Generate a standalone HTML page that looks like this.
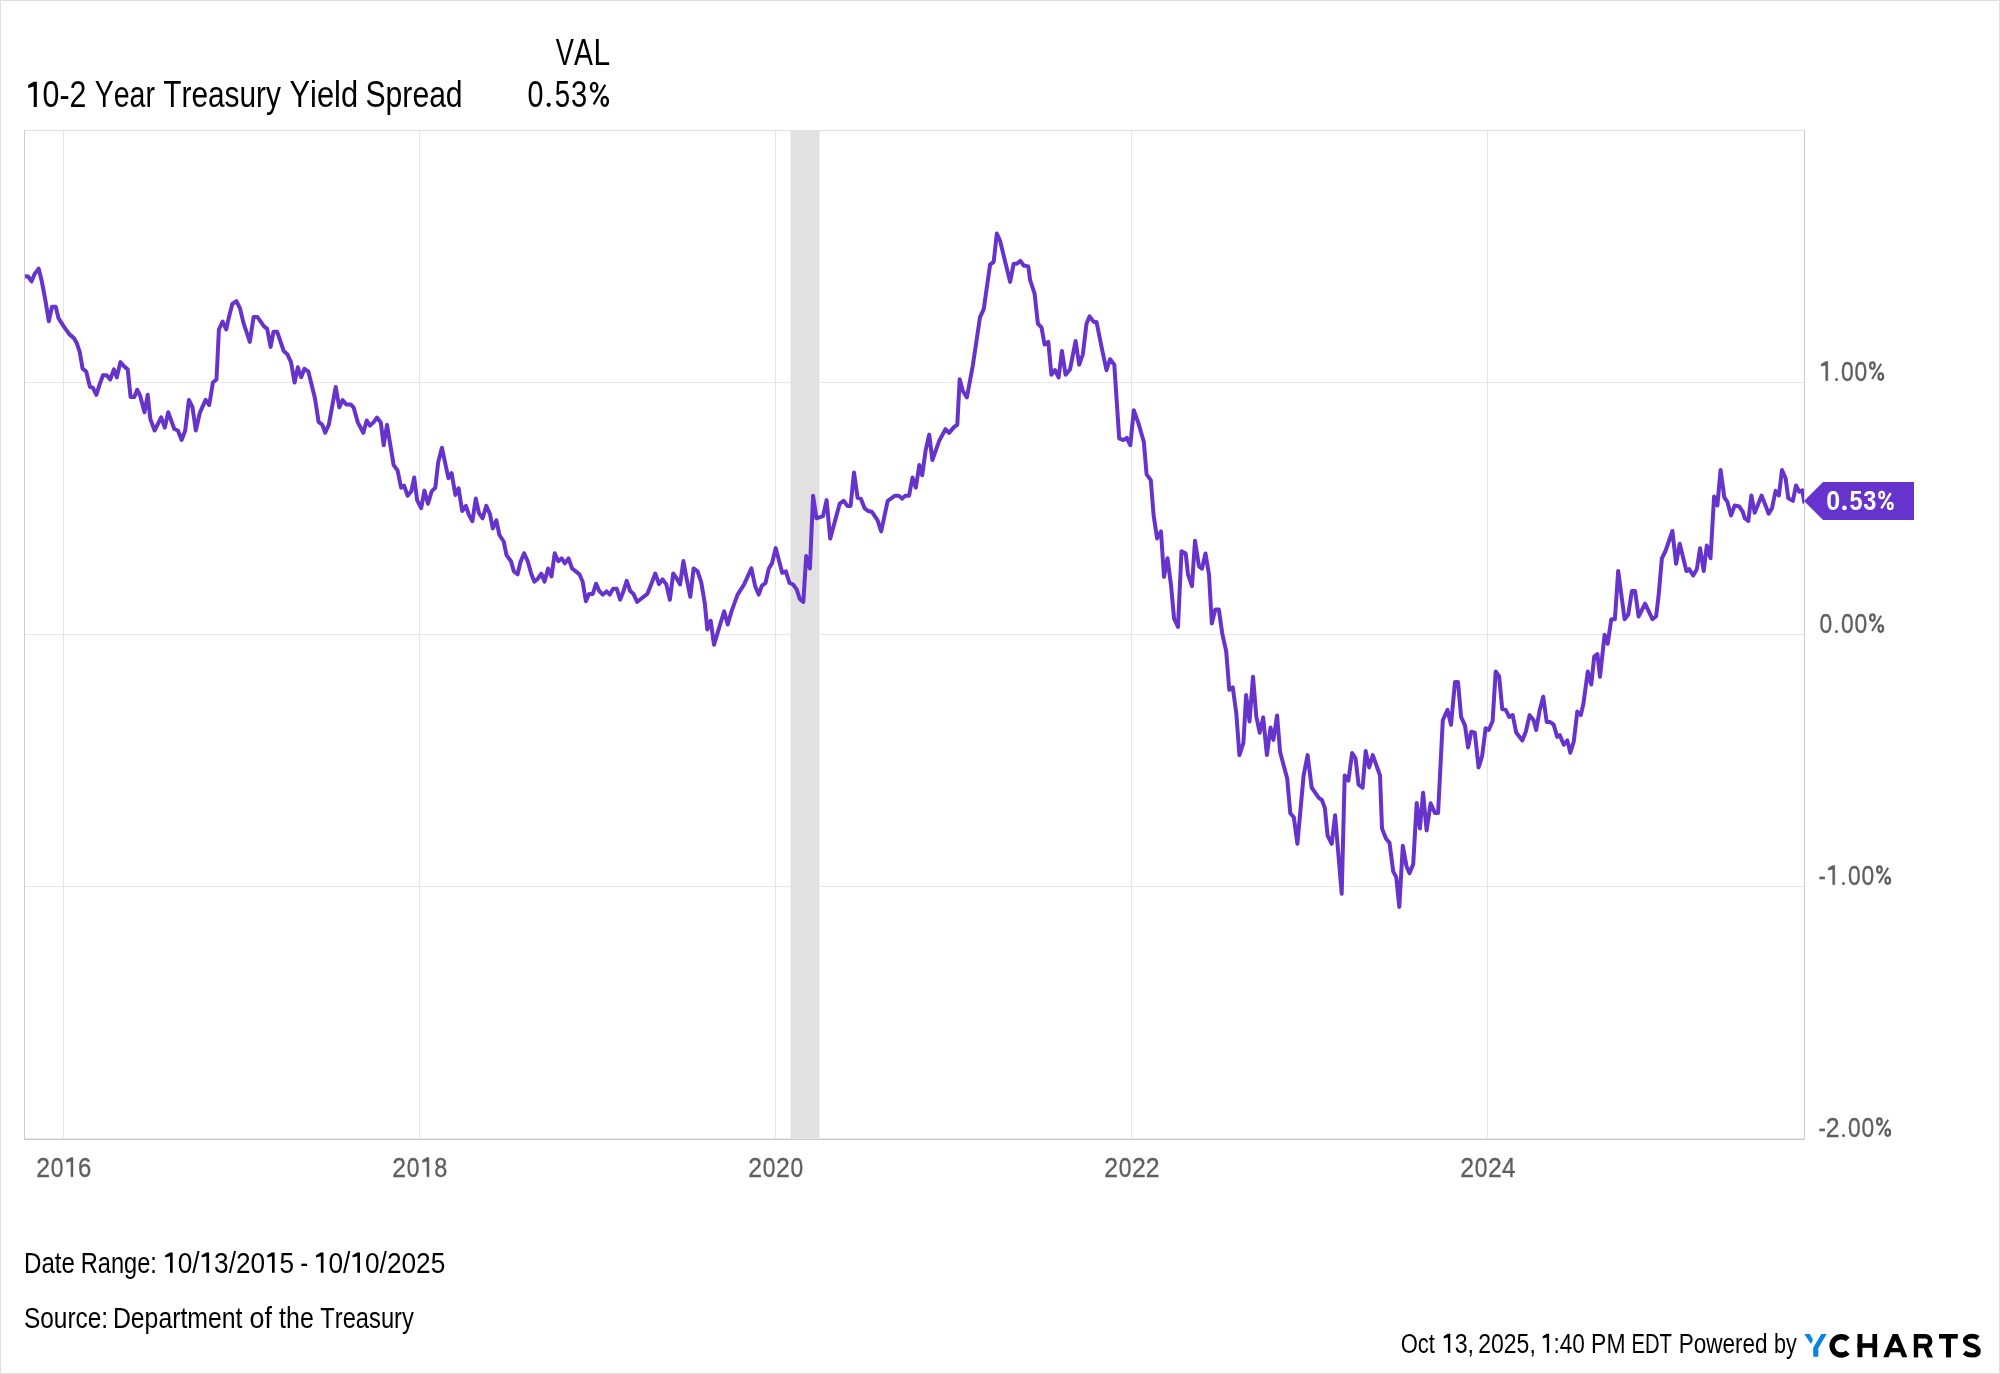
<!DOCTYPE html>
<html><head><meta charset="utf-8">
<style>
html,body{margin:0;padding:0;background:#fff;}
body{width:2000px;height:1374px;overflow:hidden;}
svg{display:block;will-change:transform;}
text{font-family:"Liberation Sans",sans-serif;font-kerning:none;}
</style></head>
<body>
<svg width="2000" height="1374" viewBox="0 0 2000 1374">
<rect x="0.5" y="0.5" width="1999" height="1373" fill="#fff" stroke="#e0e0e0" stroke-width="1"/>
<text x="555.78" y="64.7" font-size="36" fill="#000" textLength="18.14" lengthAdjust="spacingAndGlyphs">V</text>
<text x="574.04" y="64.7" font-size="36" fill="#000" textLength="18.91" lengthAdjust="spacingAndGlyphs">A</text>
<text x="593.44" y="64.7" font-size="36" fill="#000" textLength="16.65" lengthAdjust="spacingAndGlyphs">L</text>
<text x="527.58" y="106.9" font-size="36" fill="#000" textLength="15.94" lengthAdjust="spacingAndGlyphs">0</text>
<circle cx="548.70" cy="104.80" r="2.10" fill="#000"/>
<text x="554.79" y="106.9" font-size="36" fill="#000" textLength="15.37" lengthAdjust="spacingAndGlyphs">5</text>
<text x="570.99" y="106.9" font-size="36" fill="#000" textLength="16.19" lengthAdjust="spacingAndGlyphs">3</text>
<ellipse cx="594.14" cy="87.24" rx="3.14" ry="4.34" fill="none" stroke="#000" stroke-width="2.41"/>
<ellipse cx="604.76" cy="101.36" rx="3.14" ry="4.34" fill="none" stroke="#000" stroke-width="2.41"/>
<line x1="605.24" y1="84.72" x2="593.66" y2="104.38" stroke="#000" stroke-width="2.12"/>
<text x="25.74" y="106.9" font-size="36" fill="#000" textLength="60.76" lengthAdjust="spacingAndGlyphs"> 0-2</text>
<path d="M33.57,81.70 L36.83,81.70 L36.83,106.90 L33.72,106.90 L33.72,86.49 L28.20,88.00 L28.20,85.10 Z" fill="#000"/>
<text x="94.67" y="106.9" font-size="36" fill="#000" textLength="60.30" lengthAdjust="spacingAndGlyphs">Year</text>
<text x="163.23" y="106.9" font-size="36" fill="#000" textLength="117.73" lengthAdjust="spacingAndGlyphs">Treasury</text>
<text x="289.52" y="106.9" font-size="36" fill="#000" textLength="68.56" lengthAdjust="spacingAndGlyphs">Yield</text>
<text x="365.53" y="106.9" font-size="36" fill="#000" textLength="97.11" lengthAdjust="spacingAndGlyphs">Spread</text>
<rect x="790.5" y="131" width="29" height="1007" fill="#e1e1e1"/>
<g stroke="#e6e6e6" stroke-width="1">
<line x1="63.5" y1="131" x2="63.5" y2="1139"/>
<line x1="419.5" y1="131" x2="419.5" y2="1139"/>
<line x1="775.5" y1="131" x2="775.5" y2="1139"/>
<line x1="1131.5" y1="131" x2="1131.5" y2="1139"/>
<line x1="1487.5" y1="131" x2="1487.5" y2="1139"/>
<line x1="25" y1="382.5" x2="1804" y2="382.5"/>
<line x1="25" y1="634.5" x2="1804" y2="634.5"/>
<line x1="25" y1="886.5" x2="1804" y2="886.5"/>
<line x1="25" y1="1138.5" x2="1804" y2="1138.5"/>
</g>
<line x1="24" y1="130.5" x2="1805" y2="130.5" stroke="#e0e0e0" stroke-width="1"/>
<line x1="24.5" y1="130" x2="24.5" y2="1140" stroke="#cccccc" stroke-width="1"/>
<line x1="1804.5" y1="130" x2="1804.5" y2="1140" stroke="#cccccc" stroke-width="1"/>
<line x1="24" y1="1139.5" x2="1805" y2="1139.5" stroke="#cccccc" stroke-width="1"/>
<defs><clipPath id="pc"><rect x="25" y="131" width="1779" height="1008"/></clipPath></defs>
<path clip-path="url(#pc)" d="M25.1,276.2 L28.0,276.5 L31.6,281.3 L34.6,274.0 L38.6,268.6 L41.8,281.3 L45.5,300.9 L48.8,321.3 L52.0,306.8 L55.7,306.8 L58.6,318.4 L63.7,326.4 L69.5,334.4 L73.9,338.1 L76.8,343.2 L79.7,351.9 L82.6,368.6 L86.2,371.5 L89.9,386.8 L92.8,387.6 L96.4,394.8 L99.3,385.4 L103.0,375.2 L106.6,375.2 L110.2,379.5 L113.9,369.4 L116.8,377.4 L120.4,362.1 L124.1,366.4 L127.7,369.4 L130.6,397.0 L134.3,397.0 L137.2,389.7 L140.1,395.6 L144.5,412.3 L147.7,394.8 L150.3,418.9 L154.6,430.5 L161.2,417.4 L164.8,427.6 L168.2,412.3 L174.3,429.0 L177.9,430.5 L181.6,440.0 L185.2,430.5 L188.9,399.9 L192.5,407.2 L195.8,430.5 L199.8,413.0 L205.6,399.9 L209.2,405.0 L212.9,382.5 L216.5,379.5 L218.9,329.5 L222.6,321.5 L226.2,329.5 L229.1,316.4 L232.3,304.0 L236.4,301.1 L240.0,308.4 L243.7,323.7 L249.8,341.9 L253.6,317.1 L257.5,317.1 L264.0,326.3 L267.2,328.8 L270.6,347.0 L273.5,331.7 L277.1,331.7 L283.7,351.0 L287.3,354.2 L291.0,362.2 L294.6,382.6 L297.8,367.3 L301.2,377.2 L304.5,368.8 L308.4,371.7 L315.0,398.6 L318.6,421.9 L322.3,424.8 L325.2,432.8 L328.8,424.8 L335.7,387.0 L339.3,407.4 L342.6,400.1 L346.3,404.5 L350.7,404.5 L353.6,407.4 L357.9,422.6 L363.3,432.8 L366.7,420.5 L370.0,425.6 L373.9,421.9 L376.9,417.6 L380.8,422.6 L383.7,445.2 L387.0,424.8 L393.6,464.9 L396.5,469.2 L397.5,470.2 L401.1,487.7 L404.0,485.5 L407.7,495.7 L411.3,491.3 L414.2,477.5 L417.1,500.1 L421.2,508.1 L424.4,490.6 L428.0,503.7 L431.7,491.3 L435.3,487.7 L438.2,462.2 L441.9,447.7 L448.4,478.2 L451.6,473.1 L455.4,495.0 L458.6,488.4 L462.2,511.0 L465.9,505.9 L468.8,514.6 L472.4,521.2 L475.8,498.6 L479.0,513.2 L482.6,518.3 L486.3,505.9 L489.9,513.9 L492.8,528.4 L496.4,520.4 L499.4,535.0 L503.7,541.5 L506.6,555.4 L511.0,561.2 L513.9,571.4 L517.6,574.3 L520.5,561.9 L524.1,553.2 L527.7,561.2 L531.4,574.3 L534.3,581.6 L537.9,578.7 L541.3,573.6 L544.5,581.6 L548.1,568.5 L551.5,576.5 L554.7,553.2 L558.3,561.2 L561.7,558.3 L564.9,563.4 L568.5,558.3 L572.1,568.5 L575.8,571.4 L579.4,574.3 L582.6,581.5 L585.9,601.2 L589.1,593.9 L592.8,593.9 L596.1,583.7 L599.3,591.0 L602.9,594.6 L606.6,591.4 L609.8,594.6 L613.1,588.8 L616.8,588.8 L620.1,599.7 L623.3,591.7 L626.7,580.8 L630.2,591.0 L633.5,593.9 L637.1,601.9 L640.8,599.0 L647.3,593.9 L651.7,583.0 L655.3,573.5 L659.0,584.1 L662.6,579.3 L666.3,584.4 L669.9,599.7 L673.2,573.5 L676.4,577.9 L680.1,584.4 L683.4,561.1 L686.6,578.6 L690.3,596.8 L693.6,568.4 L697.6,571.3 L701.2,582.2 L704.8,603.3 L707.3,629.5 L710.7,620.8 L714.0,644.8 L720.1,624.5 L724.2,611.4 L727.7,624.5 L731.5,611.4 L737.6,594.6 L744.1,584.4 L751.4,568.4 L755.1,585.9 L758.7,594.6 L761.8,585.9 L765.5,583.0 L768.8,568.5 L772.0,563.4 L775.7,548.1 L782.2,572.8 L785.9,571.4 L789.5,583.0 L793.1,584.5 L796.8,589.6 L799.7,599.0 L803.3,602.0 L806.2,556.1 L809.9,568.5 L813.1,495.7 L816.4,518.3 L823.0,516.1 L826.6,500.1 L830.2,538.6 L839.7,503.7 L843.6,500.8 L847.4,505.9 L850.6,505.9 L854.0,472.4 L857.6,497.9 L860.8,498.6 L864.5,508.1 L868.1,511.0 L871.7,511.7 L877.6,520.4 L881.2,531.4 L887.7,500.8 L895.0,495.7 L898.7,495.7 L902.3,498.6 L905.2,495.7 L909.1,495.7 L912.5,477.5 L915.8,487.7 L919.3,465.1 L922.2,475.3 L925.6,450.6 L929.2,434.6 L932.4,460.0 L939.4,440.4 L945.5,429.2 L949.1,432.9 L953.7,427.4 L957.3,424.7 L959.7,379.2 L962.8,391.0 L966.9,397.4 L972.8,365.6 L980.0,317.3 L983.7,309.2 L990.1,264.6 L993.7,261.8 L996.8,233.6 L1000.1,240.9 L1010.1,281.9 L1013.7,263.7 L1016.8,263.7 L1020.4,260.9 L1023.7,265.5 L1028.3,266.4 L1030.1,280.0 L1034.6,293.7 L1037.9,323.7 L1041.5,327.4 L1044.6,344.6 L1048.3,341.9 L1051.4,374.7 L1055.0,370.1 L1058.6,377.4 L1061.9,351.0 L1065.6,374.7 L1070.1,369.2 L1075.6,341.0 L1079.2,364.7 L1082.8,354.6 L1086.5,323.7 L1089.6,316.4 L1093.8,321.9 L1096.5,321.9 L1102.0,349.2 L1106.5,370.1 L1110.1,359.2 L1114.3,364.7 L1119.2,438.3 L1123.3,440.1 L1126.8,437.8 L1130.3,445.2 L1133.8,410.3 L1138.4,423.1 L1143.8,441.7 L1146.6,474.3 L1150.8,480.1 L1153.6,515.1 L1157.1,538.4 L1161.0,531.4 L1164.0,576.8 L1167.5,558.2 L1171.0,584.9 L1174.1,618.7 L1178.0,626.9 L1181.5,551.2 L1185.7,553.5 L1188.0,574.5 L1192.0,586.1 L1195.0,540.7 L1199.0,566.3 L1202.0,568.6 L1205.5,553.5 L1209.0,574.5 L1211.8,623.4 L1215.3,609.4 L1218.8,609.4 L1222.3,633.9 L1226.2,651.3 L1229.3,689.8 L1232.8,687.4 L1236.3,713.4 L1239.4,755.1 L1243.4,742.9 L1246.1,695.0 L1249.5,721.5 L1253.0,676.7 L1256.3,716.4 L1259.7,732.7 L1263.2,717.4 L1266.9,755.1 L1270.5,727.6 L1273.4,739.9 L1277.1,715.4 L1280.1,752.1 L1287.2,778.6 L1290.3,813.2 L1293.8,817.3 L1297.4,843.8 L1303.6,775.5 L1307.6,755.1 L1311.7,787.7 L1318.8,797.9 L1321.9,800.0 L1324.9,808.1 L1327.6,835.6 L1331.7,843.8 L1335.1,815.3 L1341.7,893.7 L1344.7,775.5 L1348.4,780.6 L1352.1,753.1 L1355.5,758.2 L1358.6,784.7 L1362.6,787.7 L1365.7,751.1 L1369.2,767.4 L1372.8,755.1 L1380.0,775.5 L1382.0,828.5 L1386.1,838.7 L1389.5,842.8 L1393.2,871.3 L1396.3,877.4 L1399.3,907.0 L1402.8,845.8 L1406.5,866.2 L1409.5,873.3 L1413.2,864.2 L1416.7,803.0 L1419.9,828.5 L1423.1,792.8 L1426.6,830.4 L1430.6,803.3 L1434.9,812.9 L1438.1,812.9 L1442.8,720.3 L1447.5,709.9 L1451.0,724.7 L1455.0,681.9 L1458.0,681.9 L1461.1,716.9 L1465.0,725.6 L1468.1,747.4 L1471.3,731.7 L1474.8,732.6 L1478.6,767.5 L1482.1,756.2 L1485.6,728.2 L1488.7,730.0 L1492.6,721.2 L1495.7,671.4 L1499.2,676.7 L1502.2,709.0 L1505.7,709.9 L1509.2,716.9 L1512.7,715.1 L1516.2,732.6 L1522.3,740.4 L1525.8,731.7 L1529.6,715.1 L1533.6,720.3 L1536.2,730.0 L1539.7,709.9 L1543.2,696.8 L1546.7,722.1 L1550.2,722.1 L1553.7,724.7 L1557.2,736.9 L1559.8,735.2 L1563.8,744.8 L1567.3,740.4 L1570.3,752.7 L1573.8,741.3 L1577.3,711.6 L1580.8,715.1 L1583.4,703.8 L1587.8,671.4 L1591.3,684.5 L1594.2,656.6 L1597.4,654.0 L1600.0,676.7 L1604.6,634.7 L1607.7,643.8 L1611.3,619.2 L1614.9,619.2 L1618.2,571.0 L1624.6,619.2 L1628.2,614.7 L1631.9,591.0 L1635.1,591.0 L1638.6,616.5 L1645.1,603.7 L1652.4,619.2 L1656.1,616.5 L1658.6,595.6 L1661.9,558.3 L1665.5,551.0 L1672.4,531.0 L1676.1,563.7 L1679.7,543.7 L1686.4,571.0 L1689.2,569.2 L1693.2,575.5 L1696.8,569.2 L1700.1,548.3 L1703.7,571.0 L1706.8,545.5 L1710.5,558.3 L1714.1,496.4 L1717.4,505.5 L1720.6,470.0 L1724.3,497.3 L1727.4,501.9 L1731.0,515.5 L1734.7,505.5 L1739.2,506.4 L1742.8,511.9 L1744.7,518.2 L1748.3,521.0 L1751.4,495.5 L1754.7,512.8 L1761.6,495.5 L1768.7,513.7 L1772.0,508.2 L1775.6,490.9 L1778.9,495.5 L1782.0,470.0 L1785.6,478.2 L1788.3,498.2 L1792.9,500.9 L1796.0,485.5 L1799.3,491.8 L1802.3,490.4 L1804.2,501.9" fill="none" stroke="#6633cc" stroke-width="4" stroke-linejoin="round" stroke-linecap="round"/>
<path d="M1825.55,361.47 L1827.83,361.47 L1827.83,380.72 L1825.65,380.72 L1825.65,365.13 L1821.17,366.29 L1821.17,364.07 Z" fill="#5f5f5f" stroke="#5f5f5f" stroke-width="0.35"/>
<circle cx="1836.50" cy="379.40" r="1.50" fill="#5f5f5f"/>
<text x="1840.91" y="380.9" font-size="28" fill="#5f5f5f" textLength="12.68" lengthAdjust="spacingAndGlyphs" stroke="#5f5f5f" stroke-width="0.35">0</text>
<text x="1854.61" y="380.9" font-size="28" fill="#5f5f5f" textLength="12.68" lengthAdjust="spacingAndGlyphs" stroke="#5f5f5f" stroke-width="0.35">0</text>
<ellipse cx="1872.42" cy="365.61" rx="2.30" ry="3.19" fill="none" stroke="#5f5f5f" stroke-width="2.25"/>
<ellipse cx="1880.78" cy="376.59" rx="2.30" ry="3.19" fill="none" stroke="#5f5f5f" stroke-width="2.25"/>
<line x1="1881.16" y1="363.65" x2="1872.04" y2="378.94" stroke="#5f5f5f" stroke-width="2.02"/>
<text x="1819.41" y="632.9" font-size="28" fill="#5f5f5f" textLength="12.68" lengthAdjust="spacingAndGlyphs" stroke="#5f5f5f" stroke-width="0.35">0</text>
<circle cx="1836.50" cy="631.40" r="1.50" fill="#5f5f5f"/>
<text x="1840.91" y="632.9" font-size="28" fill="#5f5f5f" textLength="12.68" lengthAdjust="spacingAndGlyphs" stroke="#5f5f5f" stroke-width="0.35">0</text>
<text x="1854.61" y="632.9" font-size="28" fill="#5f5f5f" textLength="12.68" lengthAdjust="spacingAndGlyphs" stroke="#5f5f5f" stroke-width="0.35">0</text>
<ellipse cx="1872.42" cy="617.61" rx="2.30" ry="3.19" fill="none" stroke="#5f5f5f" stroke-width="2.25"/>
<ellipse cx="1880.78" cy="628.59" rx="2.30" ry="3.19" fill="none" stroke="#5f5f5f" stroke-width="2.25"/>
<line x1="1881.16" y1="615.65" x2="1872.04" y2="630.94" stroke="#5f5f5f" stroke-width="2.02"/>
<text x="1818.62" y="884.9" font-size="28" fill="#5f5f5f" textLength="7.37" lengthAdjust="spacingAndGlyphs" stroke="#5f5f5f" stroke-width="0.35">-</text>
<path d="M1832.55,865.47 L1834.83,865.47 L1834.83,884.73 L1832.65,884.73 L1832.65,869.13 L1828.17,870.29 L1828.17,868.07 Z" fill="#5f5f5f" stroke="#5f5f5f" stroke-width="0.35"/>
<circle cx="1843.50" cy="883.40" r="1.50" fill="#5f5f5f"/>
<text x="1847.91" y="884.9" font-size="28" fill="#5f5f5f" textLength="12.68" lengthAdjust="spacingAndGlyphs" stroke="#5f5f5f" stroke-width="0.35">0</text>
<text x="1861.61" y="884.9" font-size="28" fill="#5f5f5f" textLength="12.68" lengthAdjust="spacingAndGlyphs" stroke="#5f5f5f" stroke-width="0.35">0</text>
<ellipse cx="1879.42" cy="869.61" rx="2.30" ry="3.19" fill="none" stroke="#5f5f5f" stroke-width="2.25"/>
<ellipse cx="1887.78" cy="880.59" rx="2.30" ry="3.19" fill="none" stroke="#5f5f5f" stroke-width="2.25"/>
<line x1="1888.16" y1="867.65" x2="1879.04" y2="882.94" stroke="#5f5f5f" stroke-width="2.02"/>
<text x="1818.62" y="1136.9" font-size="28" fill="#5f5f5f" textLength="7.37" lengthAdjust="spacingAndGlyphs" stroke="#5f5f5f" stroke-width="0.35">-</text>
<text x="1825.75" y="1136.9" font-size="28" fill="#5f5f5f" textLength="13.79" lengthAdjust="spacingAndGlyphs" stroke="#5f5f5f" stroke-width="0.35">2</text>
<circle cx="1843.50" cy="1135.40" r="1.50" fill="#5f5f5f"/>
<text x="1847.91" y="1136.9" font-size="28" fill="#5f5f5f" textLength="12.68" lengthAdjust="spacingAndGlyphs" stroke="#5f5f5f" stroke-width="0.35">0</text>
<text x="1861.61" y="1136.9" font-size="28" fill="#5f5f5f" textLength="12.68" lengthAdjust="spacingAndGlyphs" stroke="#5f5f5f" stroke-width="0.35">0</text>
<ellipse cx="1879.42" cy="1121.61" rx="2.30" ry="3.19" fill="none" stroke="#5f5f5f" stroke-width="2.25"/>
<ellipse cx="1887.78" cy="1132.59" rx="2.30" ry="3.19" fill="none" stroke="#5f5f5f" stroke-width="2.25"/>
<line x1="1888.16" y1="1119.65" x2="1879.04" y2="1134.94" stroke="#5f5f5f" stroke-width="2.02"/>
<text x="36.25" y="1177" font-size="28" fill="#5f5f5f" textLength="13.79" lengthAdjust="spacingAndGlyphs" stroke="#5f5f5f" stroke-width="0.35">2</text>
<text x="50.76" y="1177" font-size="28" fill="#5f5f5f" textLength="12.68" lengthAdjust="spacingAndGlyphs" stroke="#5f5f5f" stroke-width="0.35">0</text>
<path d="M70.75,1157.58 L73.03,1157.58 L73.03,1176.83 L70.86,1176.83 L70.86,1161.23 L66.38,1162.39 L66.38,1160.17 Z" fill="#5f5f5f" stroke="#5f5f5f" stroke-width="0.35"/>
<text x="78.04" y="1177" font-size="28" fill="#5f5f5f" textLength="13.26" lengthAdjust="spacingAndGlyphs" stroke="#5f5f5f" stroke-width="0.35">6</text>
<text x="392.25" y="1177" font-size="28" fill="#5f5f5f" textLength="13.79" lengthAdjust="spacingAndGlyphs" stroke="#5f5f5f" stroke-width="0.35">2</text>
<text x="406.76" y="1177" font-size="28" fill="#5f5f5f" textLength="12.68" lengthAdjust="spacingAndGlyphs" stroke="#5f5f5f" stroke-width="0.35">0</text>
<path d="M426.75,1157.58 L429.03,1157.58 L429.03,1176.83 L426.86,1176.83 L426.86,1161.23 L422.38,1162.39 L422.38,1160.17 Z" fill="#5f5f5f" stroke="#5f5f5f" stroke-width="0.35"/>
<text x="434.23" y="1177" font-size="28" fill="#5f5f5f" textLength="13.04" lengthAdjust="spacingAndGlyphs" stroke="#5f5f5f" stroke-width="0.35">8</text>
<text x="748.25" y="1177" font-size="28" fill="#5f5f5f" textLength="13.79" lengthAdjust="spacingAndGlyphs" stroke="#5f5f5f" stroke-width="0.35">2</text>
<text x="762.76" y="1177" font-size="28" fill="#5f5f5f" textLength="12.68" lengthAdjust="spacingAndGlyphs" stroke="#5f5f5f" stroke-width="0.35">0</text>
<text x="775.95" y="1177" font-size="28" fill="#5f5f5f" textLength="13.79" lengthAdjust="spacingAndGlyphs" stroke="#5f5f5f" stroke-width="0.35">2</text>
<text x="790.46" y="1177" font-size="28" fill="#5f5f5f" textLength="12.68" lengthAdjust="spacingAndGlyphs" stroke="#5f5f5f" stroke-width="0.35">0</text>
<text x="1104.25" y="1177" font-size="28" fill="#5f5f5f" textLength="13.79" lengthAdjust="spacingAndGlyphs" stroke="#5f5f5f" stroke-width="0.35">2</text>
<text x="1118.76" y="1177" font-size="28" fill="#5f5f5f" textLength="12.68" lengthAdjust="spacingAndGlyphs" stroke="#5f5f5f" stroke-width="0.35">0</text>
<text x="1131.95" y="1177" font-size="28" fill="#5f5f5f" textLength="13.79" lengthAdjust="spacingAndGlyphs" stroke="#5f5f5f" stroke-width="0.35">2</text>
<text x="1145.80" y="1177" font-size="28" fill="#5f5f5f" textLength="13.79" lengthAdjust="spacingAndGlyphs" stroke="#5f5f5f" stroke-width="0.35">2</text>
<text x="1460.25" y="1177" font-size="28" fill="#5f5f5f" textLength="13.79" lengthAdjust="spacingAndGlyphs" stroke="#5f5f5f" stroke-width="0.35">2</text>
<text x="1474.76" y="1177" font-size="28" fill="#5f5f5f" textLength="12.68" lengthAdjust="spacingAndGlyphs" stroke="#5f5f5f" stroke-width="0.35">0</text>
<text x="1487.95" y="1177" font-size="28" fill="#5f5f5f" textLength="13.79" lengthAdjust="spacingAndGlyphs" stroke="#5f5f5f" stroke-width="0.35">2</text>
<text x="1502.09" y="1177" font-size="28" fill="#5f5f5f" textLength="13.46" lengthAdjust="spacingAndGlyphs" stroke="#5f5f5f" stroke-width="0.35">4</text>
<polygon points="1804,501 1823,482 1914,482 1914,520 1823,520" fill="#6633cc"/>
<text x="1826.31" y="510.3" font-size="28" font-weight="bold" fill="#fff" textLength="13.92" lengthAdjust="spacingAndGlyphs">0</text>
<circle cx="1844.45" cy="507.95" r="2.35" fill="#fff"/>
<text x="1849.38" y="510.3" font-size="28" font-weight="bold" fill="#fff" textLength="13.08" lengthAdjust="spacingAndGlyphs">5</text>
<text x="1863.16" y="510.3" font-size="28" font-weight="bold" fill="#fff" textLength="13.09" lengthAdjust="spacingAndGlyphs">3</text>
<ellipse cx="1881.71" cy="495.01" rx="2.38" ry="3.18" fill="none" stroke="#fff" stroke-width="2.26"/>
<ellipse cx="1890.29" cy="505.99" rx="2.38" ry="3.18" fill="none" stroke="#fff" stroke-width="2.26"/>
<line x1="1890.68" y1="493.05" x2="1881.32" y2="508.34" stroke="#fff" stroke-width="2.34"/>
<text x="24.07" y="1272.7" font-size="29" fill="#000" textLength="50.90" lengthAdjust="spacingAndGlyphs">Date</text>
<text x="80.76" y="1272.7" font-size="29" fill="#000" textLength="76.14" lengthAdjust="spacingAndGlyphs">Range:</text>
<text x="163.10" y="1272.7" font-size="29" fill="#000" textLength="131.10" lengthAdjust="spacingAndGlyphs"> 0/ 3/20 5</text>
<path d="M169.86,1252.40 L172.68,1252.40 L172.68,1272.70 L170.00,1272.70 L170.00,1256.26 L165.23,1257.48 L165.23,1255.14 Z" fill="#000"/>
<path d="M206.27,1252.40 L209.09,1252.40 L209.09,1272.70 L206.41,1272.70 L206.41,1256.26 L201.64,1257.48 L201.64,1255.14 Z" fill="#000"/>
<path d="M271.82,1252.40 L274.64,1252.40 L274.64,1272.70 L271.96,1272.70 L271.96,1256.26 L267.19,1257.48 L267.19,1255.14 Z" fill="#000"/>
<text x="300.34" y="1272.7" font-size="29" fill="#000" textLength="7.91" lengthAdjust="spacingAndGlyphs">-</text>
<text x="313.90" y="1272.7" font-size="29" fill="#000" textLength="131.40" lengthAdjust="spacingAndGlyphs"> 0/ 0/2025</text>
<path d="M320.67,1252.40 L323.49,1252.40 L323.49,1272.70 L320.81,1272.70 L320.81,1256.26 L316.03,1257.48 L316.03,1255.14 Z" fill="#000"/>
<path d="M357.17,1252.40 L359.99,1252.40 L359.99,1272.70 L357.31,1272.70 L357.31,1256.26 L352.53,1257.48 L352.53,1255.14 Z" fill="#000"/>
<text x="23.93" y="1327.7" font-size="29" fill="#000" textLength="84.20" lengthAdjust="spacingAndGlyphs">Source:</text>
<text x="112.93" y="1327.7" font-size="29" fill="#000" textLength="129.45" lengthAdjust="spacingAndGlyphs">Department</text>
<text x="249.57" y="1327.7" font-size="29" fill="#000" textLength="22.39" lengthAdjust="spacingAndGlyphs">of</text>
<text x="279.02" y="1327.7" font-size="29" fill="#000" textLength="34.79" lengthAdjust="spacingAndGlyphs">the</text>
<text x="320.27" y="1327.7" font-size="29" fill="#000" textLength="93.58" lengthAdjust="spacingAndGlyphs">Treasury</text>
<text x="1400.71" y="1352.7" font-size="27" fill="#000" textLength="34.20" lengthAdjust="spacingAndGlyphs">Oct</text>
<text x="1441.84" y="1352.7" font-size="27" fill="#000" textLength="32.14" lengthAdjust="spacingAndGlyphs"> 3,</text>
<path d="M1447.80,1333.80 L1450.29,1333.80 L1450.29,1352.70 L1447.92,1352.70 L1447.92,1337.39 L1443.72,1338.52 L1443.72,1336.35 Z" fill="#000"/>
<text x="1478.24" y="1352.7" font-size="27" fill="#000" textLength="57.57" lengthAdjust="spacingAndGlyphs">2025,</text>
<text x="1540.88" y="1352.7" font-size="27" fill="#000" textLength="44.01" lengthAdjust="spacingAndGlyphs"> :40</text>
<path d="M1546.71,1333.80 L1549.14,1333.80 L1549.14,1352.70 L1546.83,1352.70 L1546.83,1337.39 L1542.71,1338.52 L1542.71,1336.35 Z" fill="#000"/>
<text x="1591.12" y="1352.7" font-size="27" fill="#000" textLength="34.36" lengthAdjust="spacingAndGlyphs">PM</text>
<text x="1631.44" y="1352.7" font-size="27" fill="#000" textLength="40.42" lengthAdjust="spacingAndGlyphs">EDT</text>
<text x="1678.65" y="1352.7" font-size="27.5" fill="#000" textLength="89.00" lengthAdjust="spacingAndGlyphs">Powered</text>
<text x="1773.91" y="1352.7" font-size="27.5" fill="#000" textLength="22.84" lengthAdjust="spacingAndGlyphs">by</text>
<g fill="#0984e3">
<polygon points="1804.2,1334 1809.9,1334 1813,1339.8 1811,1343.9"/>
<polygon points="1821.3,1334 1826.7,1334 1818.3,1348.2 1818.3,1356.8 1813.2,1356.8 1813.2,1347.8"/>
</g>
<g fill="#000">
<path d="M1847.72,1339.38 A9.15,9.15 0 1 0 1847.72,1352.32" fill="none" stroke="#000" stroke-width="5.4"/>
<rect x="1857.5" y="1334" width="4.9" height="23.2"/>
<rect x="1872.4" y="1334" width="4.7" height="23.2"/>
<rect x="1857.5" y="1343.2" width="19.6" height="4.6"/>
<path fill-rule="evenodd" d="M1883.25,1357.2 L1892.7,1334 L1898,1334 L1907.4,1357.2 L1902.2,1357.2 L1900.2,1352.2 L1890.5,1352.2 L1888.5,1357.2 Z M1891.9,1348 L1898.8,1348 L1895.35,1340.6 Z"/>
<rect x="1913.8" y="1334" width="4.4" height="23.4"/>
<path d="M1916,1336.3 H1925.3 A4.85,4.85 0 0 1 1925.3,1346 H1916" fill="none" stroke="#000" stroke-width="4.6"/>
<polygon points="1923.2,1347 1928.2,1347 1933,1357.4 1927.3,1357.4"/>
<rect x="1939" y="1334" width="18.8" height="4.6"/>
<rect x="1946" y="1334" width="5" height="23.4"/>
<path d="M1978.2,1337.9 C1976,1336.5 1973.8,1336.2 1971.6,1336.2 C1967.8,1336.2 1965.3,1337.9 1965.3,1340.5 C1965.3,1343.3 1968.2,1344.3 1971.8,1345.5 C1975.6,1346.7 1978.4,1347.8 1978.4,1351 C1978.4,1353.7 1975.8,1355.2 1971.8,1355.2 C1969.2,1355.2 1966.6,1354.4 1964.3,1352.6" fill="none" stroke="#000" stroke-width="4.8"/>
</g>
</svg>
</body></html>
